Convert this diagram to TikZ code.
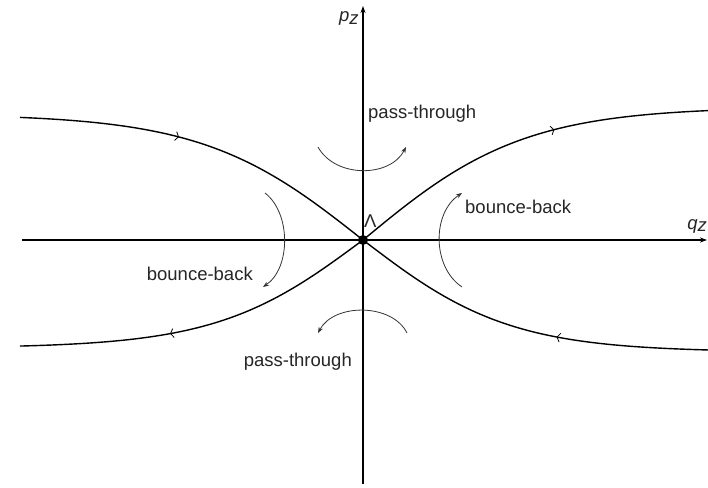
\documentclass[tikz,border=0pt]{standalone}
\usepackage{fontspec}
\setmainfont{Liberation Sans}
\usetikzlibrary{arrows.meta,decorations.markings}
\tikzset{
  axisline/.style={line width=1.1pt,-{Stealth[length=7pt,width=5pt]}},
  curveline/.style={line width=1.4pt},
  flowarrow/.style={line width=0.8pt,draw=black!80,-{Stealth[length=6pt,width=4.5pt]}},
  lbl/.style={inner sep=0pt,font=\fontsize{18.5}{20}\selectfont,text=black!85},
  markfwd/.style={postaction={decorate},decoration={markings,mark=at position #1 with {\arrow[line width=0.8pt]{Straight Barb[length=3pt,width=9pt]}}}},
  markbwd/.style={postaction={decorate},decoration={markings,mark=at position #1 with {\arrowreversed[line width=0.8pt]{Straight Barb[length=3pt,width=9pt]}}}}
}
\begin{document}
\begin{tikzpicture}[x=1pt,y=-1pt]
\path[use as bounding box,fill=white] (0,0) rectangle (708,487);
% axes
\coordinate (xl) at (22,240);
\coordinate (xr) at (707,240);
\coordinate (yb) at (363,484);
\coordinate (yt) at (363,6);
\draw[axisline] (xl) -- (xr);
\draw[axisline] (yb) -- (yt);
% separatrices
\draw[curveline,markfwd=0.43] plot[domain=20:363,samples=90] (\x,{240-126*tanh((363-\x)/160)});
\draw[curveline,markfwd=0.59] plot[domain=363:708,samples=90] (\x,{240-133*tanh((\x-363)/161)});
\draw[curveline,markbwd=0.41] plot[domain=20:363,samples=90] (\x,{240+108*tanh((363-\x)/146)});
\draw[curveline,markbwd=0.59] plot[domain=363:708,samples=90] (\x,{240+112*tanh((\x-363)/147)});
% centre
\node[circle,fill=black,inner sep=0pt,minimum size=10pt] (O) at (363,240) {};
\node[lbl,anchor=base west] (lam) at (364,227) {Λ};
% axis labels
\node[lbl,anchor=base west] (pz) at (339,22) {\itshape p\raisebox{-0.25ex}{z}};
\node[lbl,anchor=base east] (qz) at (707,229) {\itshape q\raisebox{-0.25ex}{z}};
% flow arrows
\coordinate (t1) at (318,147); \coordinate (t2) at (406,147);
\draw[flowarrow] (t1) .. controls (335,178) and (390,178) .. (t2);
\coordinate (b1) at (407,333); \coordinate (b2) at (318,333);
\draw[flowarrow] (b1) .. controls (392,303) and (334,303) .. (b2);
\coordinate (l1) at (265,193); \coordinate (l2) at (263,287);
\draw[flowarrow] (l1) .. controls (291,213) and (291,268) .. (l2);
\coordinate (r1) at (462,287); \coordinate (r2) at (462,193);
\draw[flowarrow] (r1) .. controls (432,267) and (432,213) .. (r2);
% labels
\node[lbl,anchor=base west] (pt1) at (368,118) {pass-through};
\node[lbl,anchor=base east] (pt2) at (352,366) {pass-through};
\node[lbl,anchor=base west] (bb1) at (465,213) {bounce-back};
\node[lbl,anchor=base east] (bb2) at (253,280) {bounce-back};
\end{tikzpicture}
\end{document}
